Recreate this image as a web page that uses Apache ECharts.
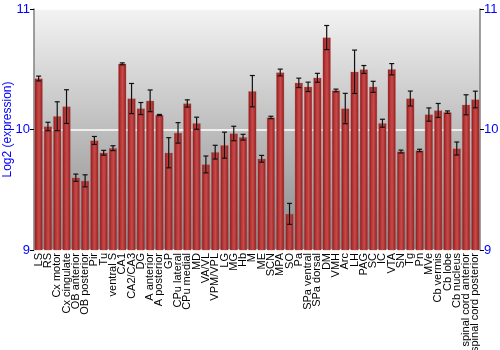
<!DOCTYPE html>
<html><head><meta charset="utf-8">
<script src="https://cdn.jsdelivr.net/npm/echarts@6/dist/echarts.min.js"></script>
<style>html,body{margin:0;padding:0;background:#fff}#c{width:500px;height:350px}</style>
</head><body><div id="c"></div>
<script>
const categories = ["LS","RS","Cx motor","Cx cingulate","OB anterior","OB posterior","Pir","Tu","ventral S","CA1","CA2/CA3","DG","A anterior","A posterior","GP","CPu lateral","CPu medial","MD","VA/VL","VPM/VPL","LG","MG","Hb","M","ME","SCN","MPA","SO","Pa","SPa ventral","SPa dorsal","DM","VMH","Arc","LH","PAG","SC","IC","VTA","SN","Tg","Pn","MVe","Cb vermis","Cb lobe","Cb nucleus","spinal cord anterior","spinal cord posterior"];
const values = [10.423,10.025,10.11,10.19,9.60,9.574,9.909,9.807,9.845,10.545,10.257,10.174,10.238,10.12,9.807,9.972,10.216,10.052,9.71,9.812,9.87,9.967,9.936,10.318,9.757,10.1,10.473,9.30,10.387,10.354,10.429,10.763,10.324,10.174,10.479,10.498,10.354,10.052,10.5,9.817,10.257,9.826,10.124,10.158,10.144,9.842,10.205,10.249];
const errors = [0.02,0.035,0.12,0.14,0.03,0.05,0.033,0.02,0.02,0.008,0.125,0.05,0.09,0.005,0.125,0.085,0.03,0.05,0.07,0.057,0.108,0.06,0.024,0.13,0.028,0.01,0.028,0.087,0.039,0.039,0.037,0.1,0.011,0.126,0.18,0.033,0.046,0.033,0.047,0.012,0.062,0.01,0.055,0.058,0.01,0.054,0.083,0.069];
const yTicks = [9,10,11];

const chart = echarts.init(document.getElementById('c'), null, {renderer:'canvas'});
const errData = values.map((v,i)=>[i, v-errors[i], v+errors[i]]);
const blue = '#0000ff';
const yAxisBase = {
  type:'value', min:yTicks[0], max:yTicks[yTicks.length-1], interval:1,
  axisLine:{show:true, lineStyle:{color:'#808080', width:1.5}},
  axisTick:{show:true, length:4, lineStyle:{color:'#000'}},
  axisLabel:{color:blue, fontSize:13, fontFamily:'Liberation Sans, Arial', margin:4},
  splitLine:{show:false}
};
chart.setOption({
  animation:false,
  grid:{left:34, right:20, top:9, bottom:100, containLabel:false, outerBoundsMode:'none', show:true, borderWidth:0,
    backgroundColor:{type:'linear',x:0,y:0,x2:0,y2:1,colorStops:[{offset:0,color:'#f3f3f3'},{offset:1,color:'#888888'}]}},
  xAxis:{type:'category', data:categories,
    axisLine:{show:false}, axisTick:{show:false},
    axisLabel:{rotate:90, interval:0, color:'#000', fontSize:11, fontFamily:'Liberation Sans, Arial', margin:3}},
  yAxis:[
    Object.assign({}, yAxisBase, {position:'left', name:'Log2 (expression)', nameLocation:'middle', nameGap:20, nameMoveOverlap:false,
      nameTextStyle:{color:blue, fontSize:12, fontFamily:'Liberation Sans, Arial'},
      splitLine:{show:true, lineStyle:{color:'#ffffff', width:1.5}}}),
    Object.assign({}, yAxisBase, {position:'right'})
  ],
  series:[
    {type:'bar', data:values, barCategoryGap:'14%',
      itemStyle:{color:{type:'linear',x:0,y:0,x2:1,y2:0,colorStops:[
        {offset:0,color:'#7e1717'},{offset:0.3,color:'#b83636'},{offset:0.55,color:'#c84a4a'},{offset:1,color:'#8a1c1c'}]},
        borderColor:'rgba(200,90,90,0.6)', borderWidth:0.5}},
    {type:'custom', data:errData, z:10,
      renderItem:function(params, api){
        const x = api.value(0);
        const lo = api.coord([x, api.value(1)]);
        const hi = api.coord([x, api.value(2)]);
        const w = 2.5;
        const st = {stroke:'#111', lineWidth:1.2};
        return {type:'group', children:[
          {type:'line', shape:{x1:lo[0],y1:lo[1],x2:hi[0],y2:hi[1]}, style:st},
          {type:'line', shape:{x1:lo[0]-w,y1:lo[1],x2:lo[0]+w,y2:lo[1]}, style:st},
          {type:'line', shape:{x1:hi[0]-w,y1:hi[1],x2:hi[0]+w,y2:hi[1]}, style:st}
        ]};
      }}
  ]
});
</script></body></html>
